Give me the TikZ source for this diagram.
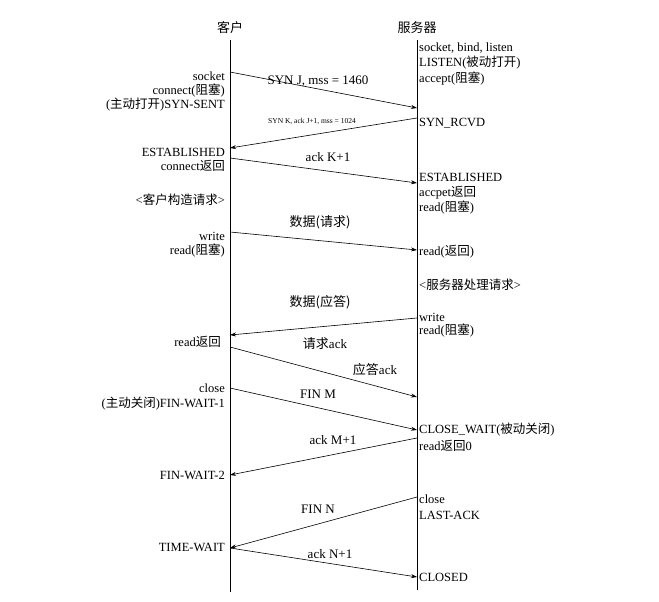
\documentclass[tikz,border=0pt]{standalone}
\usepackage{fontspec}
\setmainfont{Liberation Serif}
\newfontfamily\cjk{Noto Sans CJK SC}
\usetikzlibrary{arrows.meta,positioning}
\tikzset{
    life/.style={semithick},
    msg/.style={-{Stealth[length=6pt,width=4pt]},semithick},
    lft/.style={anchor=east,inner sep=1pt,font=\fontsize{12.5}{13}\selectfont},
    rgt/.style={anchor=west,inner sep=1pt,font=\fontsize{12.5}{13}\selectfont},
    lbl/.style={inner sep=1pt,font=\fontsize{13}{14}\selectfont}
}
\begin{document}
\begin{tikzpicture}[x=1pt,y=-1pt]
    \useasboundingbox (0,0) rectangle (659,602);

    % end points of the two time lines
    \node[lbl] (client) at (230,28) {\cjk 客户};
    \node[lbl] (server) at (417,28) {\cjk 服务器};
    \coordinate (ctop) at (230,40);  \coordinate (cbot) at (230,592);
    \coordinate (stop) at (417,40);  \coordinate (sbot) at (417,590);
    \draw[life] (ctop) -- (cbot);
    \draw[life] (stop) -- (sbot);

    % message ends
    \coordinate (c1) at (230,72);   \coordinate (s1) at (417,108);
    \coordinate (s2) at (417,118);  \coordinate (c2) at (230,148);
    \coordinate (c3) at (230,158);  \coordinate (s3) at (417,183);
    \coordinate (c4) at (230,232);  \coordinate (s4) at (417,250);
    \coordinate (s5) at (417,318);  \coordinate (c5) at (230,335);
    \coordinate (c6) at (230,347);  \coordinate (s6) at (417,397);
    \coordinate (c7) at (230,388);  \coordinate (s7) at (417,430);
    \coordinate (s8) at (417,438);  \coordinate (c8) at (230,475);
    \coordinate (s9) at (417,497);  \coordinate (c9) at (230,548);
    \coordinate (c10) at (230,548); \coordinate (s10) at (417,577);

    \draw[msg] (c1) -- (s1);
    \draw[msg] (s2) -- (c2);
    \draw[msg] (c3) -- (s3);
    \draw[msg] (c4) -- (s4);
    \draw[msg] (s5) -- (c5);
    \draw[msg] (c6) -- (s6);
    \draw[msg] (c7) -- (s7);
    \draw[msg] (s8) -- (c8);
    \draw[msg] (s9) -- (c9);
    \draw[msg] (c10) -- (s10);

    % message labels
    \node[lbl] (m1) at (318,81) {SYN J, mss = 1460};
    \node[lbl,font=\fontsize{7.5}{8}\selectfont] (m2) at (312,121) {SYN K, ack J+1, mss = 1024};
    \node[lbl] (m3) at (328,157) {ack K+1};
    \node[lbl] (m4) at (320,222) {\cjk 数据(请求)};
    \node[lbl] (m5) at (320,302) {\cjk 数据(应答)};
    \node[lbl] (m6) at (325,344) {\cjk 请求\rmfamily ack};
    \node[lbl] (m7) at (375,370) {\cjk 应答\rmfamily ack};
    \node[lbl] (m8) at (318,394) {FIN M};
    \node[lbl] (m9) at (333,440) {ack M+1};
    \node[lbl] (m10) at (318,509) {FIN N};
    \node[lbl] (m11) at (330,554) {ack N+1};

    % client side
    \node[lft] (cs1) at (226,76)  {socket};
    \node[lft] (cs2) at (226,91)  {connect(\cjk 阻塞\rmfamily)};
    \node[lft] (cs3) at (226,105) {(\cjk 主动打开\rmfamily)SYN-SENT};
    \node[lft] (cs4) at (226,152) {ESTABLISHED};
    \node[lft] (cs5) at (226,166) {connect\cjk 返回};
    \node[lft] (cs6) at (226,200) {<\cjk 客户构造请求\rmfamily>};
    \node[lft] (cs7) at (226,236) {write};
    \node[lft] (cs8) at (226,251) {read(\cjk 阻塞\rmfamily)};
    \node[lft] (cs9) at (222,342) {read\cjk 返回};
    \node[lft] (cs10) at (226,388) {close};
    \node[lft] (cs11) at (226,404) {(\cjk 主动关闭\rmfamily)FIN-WAIT-1};
    \node[lft] (cs12) at (226,475) {FIN-WAIT-2};
    \node[lft] (cs13) at (226,547) {TIME-WAIT};

    % server side
    \node[rgt] (ss1) at (418,48)  {socket, bind, listen};
    \node[rgt] (ss2) at (418,63)  {LISTEN(\cjk 被动打开\rmfamily)};
    \node[rgt] (ss3) at (418,79)  {accept(\cjk 阻塞\rmfamily)};
    \node[rgt] (ss4) at (418,123) {SYN\_RCVD};
    \node[rgt] (ss5) at (418,177) {ESTABLISHED};
    \node[rgt] (ss6) at (418,193) {accpet\cjk 返回};
    \node[rgt] (ss7) at (418,208) {read(\cjk 阻塞\rmfamily)};
    \node[rgt] (ss8) at (418,252) {read(\cjk 返回\rmfamily)};
    \node[rgt] (ss9) at (418,285) {<\cjk 服务器处理请求\rmfamily>};
    \node[rgt] (ss10) at (418,317) {write};
    \node[rgt] (ss11) at (418,331) {read(\cjk 阻塞\rmfamily)};
    \node[rgt] (ss12) at (418,430) {CLOSE\_WAIT(\cjk 被动关闭\rmfamily)};
    \node[rgt] (ss13) at (418,446) {read\cjk 返回\rmfamily 0};
    \node[rgt] (ss14) at (418,499) {close};
    \node[rgt] (ss15) at (418,515) {LAST-ACK};
    \node[rgt] (ss16) at (418,577) {CLOSED};
\end{tikzpicture}
\end{document}
